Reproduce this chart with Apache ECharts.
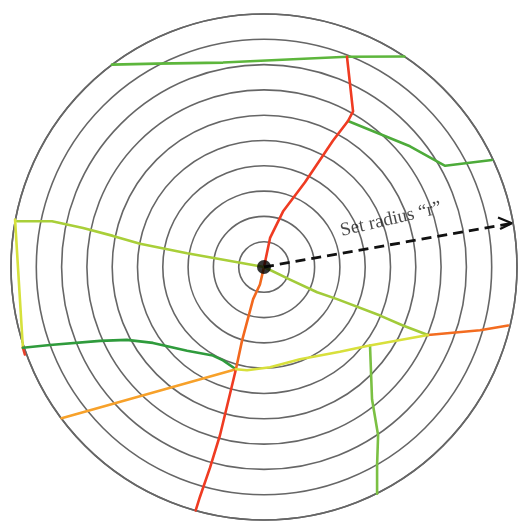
<!DOCTYPE html>
<html><head><meta charset="utf-8">
<script src="https://cdn.jsdelivr.net/npm/echarts@6/dist/echarts.min.js"></script>
<style>html,body{margin:0;padding:0;background:#fff}#c{width:518px;height:532px}</style>
</head><body><div id="c"></div>
<script>
// Units: metres from the centre point, ring spacing 100 m, set radius r = 1000 m
const ringMax = 1000, ringStep = 100;
const redNorth = [[0,0],[24,115],[75,219],[162,335],[273,500],[332,577],[352,615],[328,831]];
const greenTop = [[-601,800],[-423,804],[-162,808],[328,831],[555,832]];
const greenNE = [[332,577],[577,477],[716,400],[901,423]];
const limeWest = [[0,0],[-304,54],[-490,92],[-597,123],[-715,154],[-838,181],[-976,181]];
const yellowWest = [[-984,188],[-953,-319]];
const redTip = [[-953,-319],[-945,-346]];
const greenSW = [[-953,-319],[-846,-308],[-648,-292],[-542,-288],[-439,-300],[-304,-331],[-202,-350],[-162,-369],[-111,-404]];
const orangeSouth = [[0,0],[-16,-69],[-43,-127],[-87,-292],[-111,-404]];
const redSouth = [[-111,-404],[-134,-500],[-174,-665],[-213,-792],[-253,-908],[-270,-962]];
const limeSE = [[0,0],[103,-50],[210,-100],[289,-127],[459,-192],[549,-231],[648,-269]];
const orangeEast = [[648,-269],[854,-250],[965,-231]];
const yellowSouth = [[648,-269],[407,-312],[300,-335],[142,-365],[24,-396],[-67,-408],[-111,-404]];
const orangeSW = [[-111,-404],[-800,-598]];
const greenSouth = [[419,-310],[427,-523],[451,-665],[447,-781],[447,-896]];
const radiusArrow = [[0,0],[980,173]];
const arrowHead = [[925,196],[980,173],[933,150]];
const centrePoint = [[0,0]];
const labelPoint = [[502,188]];
const labelText = 'Set radius \u201cr\u201d';

const chart = echarts.init(document.getElementById('c'), null, {renderer:'canvas'});
function road(data, color, z){
  return {type:'line', xAxisIndex:0, yAxisIndex:0, data, showSymbol:false, symbol:'none',
    lineStyle:{color, width:2.6, cap:'round', join:'round'}, z: z||3, silent:true, animation:false};
}
const C = 264, R = 253;
chart.setOption({
  animation:false,
  backgroundColor:'#fff',
  polar:{center:[C,267], radius:R},
  angleAxis:{show:true, min:0, max:360, axisLine:{show:true, lineStyle:{color:'#666', width:1.6}},
    axisTick:{show:false}, axisLabel:{show:false}, splitLine:{show:false}},
  radiusAxis:{min:0, max:ringMax, interval:ringStep, axisLine:{show:false}, axisTick:{show:false},
    axisLabel:{show:false}, splitLine:{show:true, lineStyle:{color:'#666', width:1.6}}},
  grid:{left:C-R, top:267-R, width:2*R, height:2*R, containLabel:false},
  xAxis:{type:'value', min:-ringMax, max:ringMax, show:false},
  yAxis:{type:'value', min:-ringMax, max:ringMax, show:false},
  series:[
    {type:'line', coordinateSystem:'polar', data:[], silent:true},
    road(greenTop,'#5db63c'),
    road(greenNE,'#4dab3a'),
    road(redNorth,'#ef3b22'),
    road(limeWest,'#a9cf39'),
    road(yellowWest,'#d6e13c'),
    road(redTip,'#e8402a'),
    road(greenSW,'#2f9b3c'),
    road(orangeSW,'#f7a12a'),
    road(redSouth,'#ef3b22'),
    road(orangeSouth,'#f2681e'),
    road(limeSE,'#a2cb3a'),
    road(orangeEast,'#f36c20'),
    road(greenSouth,'#7bc043'),
    road(yellowSouth,'#d8e03c', 4),
    {type:'line', data:radiusArrow, showSymbol:false, symbol:'none', z:5,
      lineStyle:{color:'#111', width:2.8, type:[10,6]}},
    {type:'line', data:arrowHead, showSymbol:false, symbol:'none', z:5,
      lineStyle:{color:'#111', width:2.2}},
    {type:'scatter', data:centrePoint, symbol:'circle', symbolSize:14, itemStyle:{color:'#000'}, z:6},
    {type:'scatter', data:labelPoint, symbolSize:0, z:6,
      label:{show:true, position:'inside', formatter:labelText, rotate:13,
        fontFamily:'Liberation Serif', fontSize:19, color:'#1a1a1a'}}
  ]
});
</script></body></html>
